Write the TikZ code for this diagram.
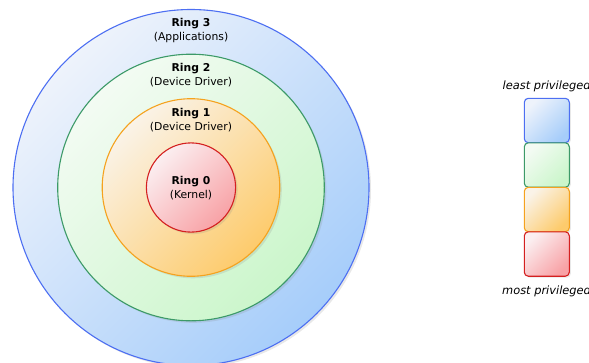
\documentclass[tikz,border=0pt]{standalone}
\usepackage{fontspec}
\setmainfont{DejaVu Sans}
\usetikzlibrary{shadows}

\definecolor{blueline}{HTML}{4D6FF2}
\definecolor{bluelight}{HTML}{EEF3FB}
\definecolor{bluedark}{HTML}{A6CDFA}
\definecolor{greenline}{HTML}{3C9A68}
\definecolor{greenlight}{HTML}{F3FBF3}
\definecolor{greendark}{HTML}{CBF6CB}
\definecolor{orangeline}{HTML}{F5A21E}
\definecolor{orangelight}{HTML}{FAF3E8}
\definecolor{orangedark}{HTML}{FDCB6C}
\definecolor{redline}{HTML}{D42020}
\definecolor{redlight}{HTML}{FBEFF1}
\definecolor{reddark}{HTML}{F8A2A6}

\begin{document}
\begin{tikzpicture}[
        x=1pt, y=-1pt,
        font=\fontsize{10.8}{14}\selectfont,
        % 填充样式（左上浅，右下深）
        tint/.style={draw=#1line, top color=#1light, bottom color=#1dark, shading angle=45},
        % 圆环样式
        ring/.style={circle, inner sep=0pt, line width=1.1pt, tint=#1,
            drop shadow={opacity=0.18, shadow xshift=2pt, shadow yshift=-2pt}},
        % 图例方块
        keybox/.style={rounded corners=4pt, minimum width=45pt, minimum height=44.4pt,
            inner sep=0pt, line width=1.1pt, tint=#1,
            drop shadow={opacity=0.18, shadow xshift=1.5pt, shadow yshift=-1.5pt}},
        ringlabel/.style={align=center, inner sep=0pt},
        keylabel/.style={anchor=west, inner sep=0pt, font=\fontsize{11.4}{12}\selectfont\itshape},
    ]
    \useasboundingbox (0,0) rectangle (589,362);

    % 圆心
    \coordinate (c) at (191,187.5);

    % 四个圆环（由外向内）
    \node[ring=blue,   minimum size=356pt]   (ring3) at (c) {};
    \node[ring=green,  minimum size=266.6pt] (ring2) at (c) {};
    \node[ring=orange, minimum size=177.6pt] (ring1) at (c) {};
    \node[ring=red,    minimum size=89.2pt]  (ring0) at (c) {};

    % 标签
    \node[ringlabel] (lab3) at (191,31)  {\textbf{Ring 3}\\(Applications)};
    \node[ringlabel] (lab2) at (191,75)  {\textbf{Ring 2}\\(Device Driver)};
    \node[ringlabel] (lab1) at (191,120) {\textbf{Ring 1}\\(Device Driver)};
    \node[ringlabel] (lab0) at (191,188) {\textbf{Ring 0}\\(Kernel)};

    % 图例
    \foreach \name/\col/\yy in {key3/blue/120.5, key2/green/165, key1/orange/209.5, key0/red/254}
        \node[keybox=\col] (\name) at (546.8,\yy) {};

    \node[keylabel] (least) at (502.5,86.5) {least privileged};
    \node[keylabel] (most)  at (502,291)    {most privileged};
\end{tikzpicture}
\end{document}
